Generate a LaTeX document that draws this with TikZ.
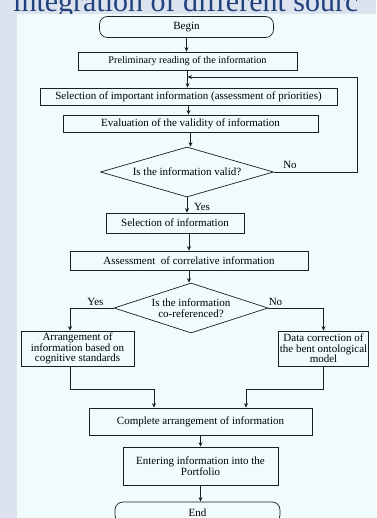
\documentclass[tikz,border=0pt]{standalone}
\usepackage{fontspec}
\setmainfont{Liberation Serif}
\usetikzlibrary{arrows.meta,shapes.geometric}
\definecolor{pagebg}{HTML}{DCE3EE}
\definecolor{panelbg}{HTML}{F0FBFB}
\definecolor{titleblue}{HTML}{22407E}
\definecolor{ink}{HTML}{1E1E1E}
\newcommand\boxfont[1]{\fontsize{#1}{10.6}\selectfont}

\begin{document}
\begin{tikzpicture}[x=1pt,y=-1pt,
	box/.style={draw=ink, line width=0.7pt, inner sep=1pt, align=center, font=\boxfont{11}},
	term/.style={box, rounded corners=8pt},
	ask/.style={box, diamond, inner sep=0pt},
	arr/.style={draw=ink, line width=0.7pt, -{Stealth[length=4.5pt, width=4pt]}},
	lbl/.style={inner sep=1pt, font=\fontsize{11}{11}\selectfont}]
			\useasboundingbox (0,0) rectangle (376,518);
			\clip (0,0) rectangle (376,518);
			\fill[pagebg] (0,0) rectangle (376,518);
			\node[anchor=base west, inner sep=0pt, text=titleblue, font=\fontsize{30}{30}\selectfont] (title) at (13,12) {integration of different sourc};
			\fill[panelbg] (17,14) rectangle (376,518);

			\node[term, minimum width=174, minimum height=21] (begin) at (186.5,27) {Begin};
			\node[box, minimum width=219, minimum height=18, font=\boxfont{10.2}] (prelim) at (187.5,61) {Preliminary reading of the information};
			\node[box, minimum width=297, minimum height=17] (select) at (188.5,96.5) {Selection of important information (assessment of priorities)};
			\node[box, minimum width=255, minimum height=17] (eval) at (190.5,123.5) {Evaluation of the validity of information};
			\node[ask, shape aspect=3.46, minimum width=173, minimum height=50] (valid) at (187,172) {Is the information valid?};
			\node[box, minimum width=138, minimum height=20] (pick) at (175,223) {Selection of information};
			\node[box, minimum width=238, minimum height=19] (assess) at (189,260.5) {Assessment\ \ of correlative information};
			\node[ask, shape aspect=3.08, minimum width=154, minimum height=50] (coref) at (191,308) {Is the information\\co-referenced?};
			\node[box, minimum width=113, minimum height=35] (arrange) at (77.5,348.5) {Arrangement of\\information based on\\cognitive standards};
			\node[box, minimum width=89, minimum height=35] (fix) at (323.5,348.5) {Data correction of\\the bent ontological\\model};
			\node[box, minimum width=223, minimum height=27] (complete) at (200.5,421.5) {Complete arrangement of information};
			\node[box, minimum width=155, minimum height=38] (enter) at (200.5,466) {Entering information into the\\Portfolio};
			\node[term, minimum width=165, minimum height=21] (stop) at (197.5,512.5) {End};

			\coordinate (fbk) at (357,77);
			\coordinate (yesturn) at (70,308);
			\coordinate (joinl) at (154,389);
			\coordinate (joinr) at (246,389);

			\def\list {begin/prelim, prelim/select, select/eval, eval/valid, valid/pick, assess/coref, complete/enter, enter/stop}  % straight down
			\foreach \u\v in \list
			{	\draw[arr] (\u.south) -- (\u.south |- \v.north);}
			\draw[arr] (assess.north |- pick.south) -- (assess.north);

			\draw[arr] (valid.east) -| (fbk) -- (fbk -| prelim.south);  % back to the start
			\draw[arr] (coref.west) -- (yesturn) -- (yesturn |- arrange.north);
			\draw[arr] (coref.east) -| (fix.north);
			\draw[arr] (yesturn |- arrange.south) |- (joinl) -- (joinl |- complete.north);
			\draw[arr] (fix.south) |- (joinr) -- (joinr |- complete.north);

			\node[lbl] (yesa) at (202,206.5) {Yes};
			\node[lbl] (noa) at (290,165) {No};
			\node[lbl] (yesb) at (95.5,302) {Yes};
			\node[lbl] (nob) at (275.5,302) {No};
		\end{tikzpicture}
\end{document}
